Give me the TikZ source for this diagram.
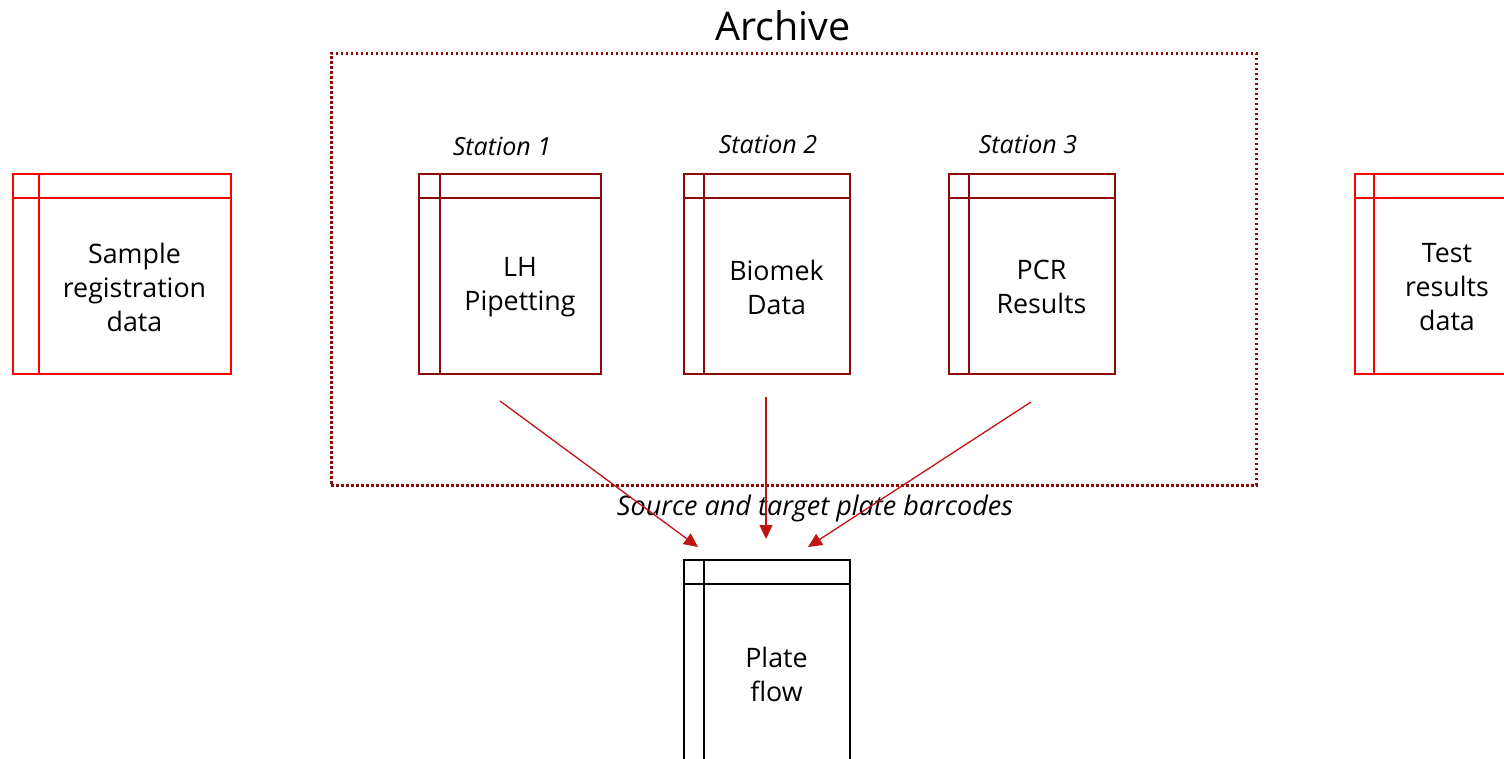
\documentclass[tikz,border=0pt]{standalone}
\usepackage{fontspec}
\setmainfont{Open Sans}
\usetikzlibrary{arrows.meta}
\definecolor{brightred}{RGB}{255,0,0}
\definecolor{darkred}{RGB}{140,10,10}
\definecolor{arrowred}{RGB}{190,20,20}
\tikzset{
  tablebox/.style={draw, line width=2pt, inner sep=0pt},
  boxtext/.style={align=center, font=\fontsize{26.8}{34}\selectfont, inner sep=0pt},
  stationlabel/.style={font=\fontsize{25}{30}\selectfont\itshape, inner sep=0pt},
  flowarrow/.style={draw=arrowred, line width=1.3pt, -{Triangle[length=14pt,width=13pt]}, fill=arrowred},
  archivebox/.style={draw=darkred, line width=2.5pt, dash pattern=on 2.5pt off 2.5pt}
}
\begin{document}
\begin{tikzpicture}[x=1pt,y=-1pt]
\useasboundingbox (0,0) rectangle (1504,758);
\clip (0,0) rectangle (1504,758);
% archive
\node[archivebox, minimum width=925pt, minimum height=432pt, anchor=north west] (archive) at (330,52) {};
\node[font=\fontsize{39.5}{48}\selectfont, inner sep=0pt] (archivetitle) at (783,26) {Archive};
% boxes: name, x1, y1, x2, y2, inner x, inner y, color
\foreach \n/\xa/\ya/\xb/\yb/\xi/\yi/\c in {
  sample/12/173/230/373/39/198/brightred,
  st1/418/173/600/373/440/198/darkred,
  st2/683/173/849/373/704/198/darkred,
  st3/948/173/1114/373/969/198/darkred,
  test/1354/173/1520/373/1374/198/brightred,
  plate/683/559/849/762/704/584/black}{
  \node[tablebox, draw=\c, minimum width={\xb-\xa}, minimum height={\yb-\ya}, anchor=north west] (\n) at (\xa,\ya) {};
  \draw[\c, line width=2pt] (\xi,\ya) -- (\xi,\yb) (\xa,\yi) -- (\xb,\yi);
  \coordinate (\n-c) at ({(\xi+\xb)/2},{(\yi+\yb)/2+1.5});
}
\node[boxtext] (sampletext) at (sample-c) {Sample\\registration\\data};
\node[boxtext] (st1text) at (st1-c) {LH\\Pipetting};
\node[boxtext] (st2text) at (st2-c) {Biomek\\Data};
\node[boxtext] (st3text) at (st3-c) {PCR\\Results};
\node[boxtext] (testtext) at (test-c) {Test\\results\\data};
\node[boxtext] (platetext) at (plate-c) {Plate\\flow};
% station labels
\node[stationlabel] (lab1) at (502,146) {Station 1};
\node[stationlabel] (lab2) at (768,144) {Station 2};
\node[stationlabel] (lab3) at (1028,144) {Station 3};
\node[font=\fontsize{27}{32}\selectfont\itshape, inner sep=0pt] (barcodes) at (815,508) {Source and target plate barcodes};
% arrows
\coordinate (a1s) at (500,401);
\coordinate (a1e) at (698,547);
\coordinate (a2s) at (766,397);
\coordinate (a2e) at (766,539);
\coordinate (a3s) at (1031,402);
\coordinate (a3e) at (808,547);
\draw[flowarrow] (a1s) -- (a1e);
\draw[flowarrow] (a2s) -- (a2e);
\draw[flowarrow] (a3s) -- (a3e);
\end{tikzpicture}
\end{document}
